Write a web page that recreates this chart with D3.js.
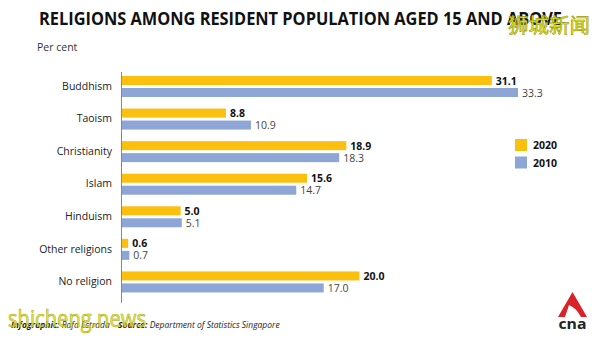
<!DOCTYPE html>
<html>
<head>
<meta charset="utf-8">
<script src="https://cdn.jsdelivr.net/npm/d3@7"></script>
<style>
  body { margin: 0; background: #fff; }
  svg { display: block; font-family: "Open Sans", "Noto Sans", sans-serif; }
</style>
</head>
<body>
<div id="chart"></div>
<script>
// religion categories and the share of residents (per cent) for each census
var religions = ["Buddhism", "Taoism", "Christianity", "Islam", "Hinduism", "Other religions", "No religion"];
var years = ["2020", "2010"];
var values2020 = [31.1, 8.8, 18.9, 15.6, 5.0, 0.6, 20.0];
var values2010 = [33.3, 10.9, 18.3, 14.7, 5.1, 0.7, 17.0];

var width = 600, height = 338;
var yellow = "#fbbf0d", blue = "#8ea6d6";

var svg = d3.select("#chart")
  .append("svg")
  .attr("width", width)
  .attr("height", height);

// title and unit
svg.append("text")
  .attr("x", 39)
  .attr("y", 25)
  .attr("font-size", 17.5)
  .attr("font-weight", 700)
  .attr("textLength", 523)
  .attr("lengthAdjust", "spacingAndGlyphs")
  .attr("fill", "#111")
  .text("RELIGIONS AMONG RESIDENT POPULATION AGED 15 AND ABOVE");

svg.append("text")
  .attr("x", 37)
  .attr("y", 51)
  .attr("font-size", 10.5)
  .attr("fill", "#333")
  .text("Per cent");

// scales
var x = d3.scaleLinear().domain([0, 33.3]).range([121, 518]);
var y = d3.scaleBand().domain(religions).range([70, 298]).paddingInner(0);
var sub = d3.scaleBand().domain(years).range([0, 21]).paddingInner(0.25);

var rows = religions.map(function(r, i) {
  return { name: r, vals: [{ year: "2020", v: values2020[i] }, { year: "2010", v: values2010[i] }] };
});

// y axis line with category labels
var yAxis = d3.axisLeft(y).tickSize(0).tickPadding(9);
var gy = svg.append("g")
  .attr("transform", "translate(121,0)")
  .call(yAxis);
gy.select(".domain").attr("stroke", "#888").attr("stroke-width", 1)
  .attr("d", "M0.5,72V303");
gy.selectAll(".tick text")
  .attr("font-size", 10.5)
  .attr("fill", "#222")
  .attr("font-family", "'Open Sans', sans-serif");

var groups = svg.selectAll("g.row")
  .data(rows)
  .enter()
  .append("g")
  .attr("class", "row")
  .attr("transform", function(d) { return "translate(0," + (y(d.name) + 6) + ")"; });

groups.selectAll("rect")
  .data(function(d) { return d.vals; })
  .enter()
  .append("rect")
  .attr("x", x(0) + 1)
  .attr("y", function(d) { return sub(d.year); })
  .attr("width", function(d) { return x(d.v) - x(0) - 1; })
  .attr("height", sub.bandwidth())
  .attr("fill", function(d) { return d.year === "2020" ? yellow : blue; });

groups.selectAll("text")
  .data(function(d) { return d.vals; })
  .enter()
  .append("text")
  .attr("x", function(d) { return x(d.v) + 4; })
  .attr("y", function(d) { return sub(d.year) + sub.bandwidth() / 2 + 4; })
  .attr("font-size", 10.5)
  .attr("font-weight", function(d) { return d.year === "2020" ? 700 : 400; })
  .attr("fill", function(d) { return d.year === "2020" ? "#111" : "#444"; })
  .text(function(d) { return d.v.toFixed(1); });

// legend
var legend = svg.selectAll("g.legend")
  .data(years)
  .enter()
  .append("g")
  .attr("class", "legend")
  .attr("transform", function(d, i) { return "translate(515," + (139 + i * 17.5) + ")"; });
legend.append("rect")
  .attr("width", 12)
  .attr("height", 12)
  .attr("fill", function(d) { return d === "2020" ? yellow : blue; });
legend.append("text")
  .attr("x", 18)
  .attr("y", 10)
  .attr("font-size", 10.5)
  .attr("font-weight", 700)
  .attr("fill", "#111")
  .text(function(d) { return d; });

// credit line
var credit = svg.append("text")
  .attr("x", 11)
  .attr("y", 328)
  .attr("font-size", 8.5)
  .attr("font-style", "italic")
  .attr("fill", "#222");
credit.append("tspan").attr("font-weight", 700).text("Infographic: ");
credit.append("tspan").text("Rafa Estrada   ");
credit.append("tspan").attr("x", 118).attr("font-weight", 700).text("Source: ");
credit.append("tspan").text("Department of Statistics Singapore");

// cna logo
var logo = svg.append("g").attr("transform", "translate(558,292)");
logo.append("path")
  .attr("d", "M14.5,0 L29,25 L23,25 C20,19 16,15 11,13 L7,25 L0,25 Z")
  .attr("fill", "#d8232a");
logo.append("text")
  .attr("x", 14.5)
  .attr("y", 37)
  .attr("text-anchor", "middle")
  .attr("font-size", 15)
  .attr("font-weight", 700)
  .attr("textLength", 28)
  .attr("lengthAdjust", "spacingAndGlyphs")
  .attr("fill", "#222")
  .text("cna");

// site stamps
svg.append("text")
  .attr("x", 508)
  .attr("y", 33)
  .attr("font-size", 20.5)
  .attr("font-family", "'Noto Sans CJK SC', sans-serif")
  .attr("fill", "#e8e81a")
  .attr("stroke", "#9a9a10")
  .attr("stroke-width", 0.6)
  .text("狮城新闻");

svg.append("text")
  .attr("x", 8)
  .attr("y", 327)
  .attr("font-size", 24)
  .attr("font-family", "'Open Sans', sans-serif")
  .attr("fill", "#e6e61e")
  .attr("fill-opacity", 0.85)
  .attr("stroke", "#a8a820")
  .attr("stroke-width", 0.6)
  .attr("textLength", 138)
  .attr("lengthAdjust", "spacingAndGlyphs")
  .text("shicheng.news");
</script>
</body>
</html>
